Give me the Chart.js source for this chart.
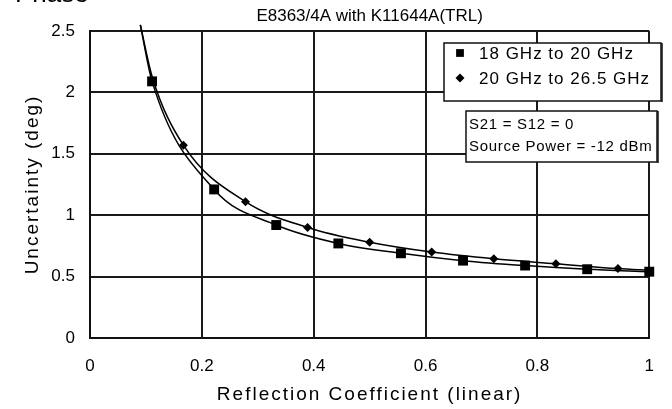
<!DOCTYPE html>
<html>
<head>
<meta charset="utf-8">
<title>Phase uncertainty vs reflection coefficient</title>
<script src="https://cdn.jsdelivr.net/npm/chart.js@4.4.1/dist/chart.umd.min.js"></script>
<style>
  html, body { margin: 0; padding: 0; background: #ffffff; }
  #wrap { width: 672px; height: 409px; }
</style>
</head>
<body>
<div id="wrap"><canvas id="phaseChart" width="672" height="409"></canvas></div>
<script>
const FONT = "'Liberation Sans', Arial, sans-serif";

const pageHeading = "Phase";
const chartTitle = "E8363/4A with K11644A(TRL)";
const xAxisTitle = "Reflection Coefficient (linear)";
const yAxisTitle = "Uncertainty (deg)";
const xTickValues = [0, 0.2, 0.4, 0.6, 0.8, 1];
const yTickValues = [0, 0.5, 1, 1.5, 2, 2.5];
const seriesLabels = ["18 GHz to 20 GHz", "20 GHz to 26.5 GHz"];
const noteLines = ["S21 = S12 = 0", "Source Power = -12 dBm"];

// marker points
const band1X = [0.111, 0.222, 0.333, 0.444, 0.556, 0.667, 0.778, 0.889, 1.0];
const band1Y = [2.09, 1.21, 0.92, 0.77, 0.69, 0.63, 0.59, 0.56, 0.54];
const band2X = [0.167, 0.278, 0.389, 0.5, 0.611, 0.722, 0.833, 0.944];
const band2Y = [1.57, 1.11, 0.90, 0.78, 0.70, 0.645, 0.605, 0.565];

// unmarked stretches of the curves: start above the plot, curve 2 near the first square, curve 2 end
const band1CurveStart = [[0.09, 2.55]];
const band2CurveStart = [[0.09, 2.55], [0.111, 2.13]];
const band2CurveEnd = [[1.0, 0.55]];

document.addEventListener("DOMContentLoaded", () => {
  renderPhaseChart();
});

function buildCurve(start, xs, ys, end = []) {
  const points = start.map(([x, y]) => ({ x, y, marker: false }));
  xs.forEach((x, i) => points.push({ x, y: ys[i], marker: true }));
  end.forEach(([x, y]) => points.push({ x, y, marker: false }));
  return points;
}

// axis titles in the reference are widely spaced
const spacedTitles = {
  id: "spacedTitles",
  beforeDraw(chart) {
    Object.values(chart.scales).forEach((scale) => {
      if (scale._spacedTitle) return;
      const drawTitle = scale.drawTitle;
      scale.drawTitle = function () {
        this.ctx.save();
        this.ctx.letterSpacing = "2px";
        drawTitle.call(this);
        this.ctx.restore();
      };
      scale._spacedTitle = true;
    });
  }
};

function drawBox(ctx, x, y, w, h) {
  ctx.fillStyle = "#ffffff";
  ctx.fillRect(x, y, w, h);
  ctx.strokeStyle = "#111111";
  ctx.lineWidth = 1.5;
  ctx.strokeRect(x, y, w, h);
  ctx.beginPath();
  ctx.moveTo(x + w + 1, y);
  ctx.lineTo(x + w + 1, y + h + 1);
  ctx.stroke();
}

const overlayBoxes = {
  id: "overlayBoxes",
  afterDraw(chart) {
    const { ctx } = chart;
    ctx.save();

    // heading of the page, cut off at the top edge
    ctx.fillStyle = "#000000";
    ctx.font = `26px ${FONT}`;
    ctx.textBaseline = "alphabetic";
    ctx.fillText(pageHeading, 15, 2);

    // series legend
    drawBox(ctx, 444, 43, 217, 58);
    ctx.font = `17px ${FONT}`;
    ctx.letterSpacing = "1px";
    ctx.textBaseline = "middle";
    chart.data.datasets.forEach((ds, i) => {
      const y = 53 + i * 25;
      ctx.fillStyle = "#000000";
      ctx.strokeStyle = "#000000";
      Chart.helpers.drawPoint(ctx, {
        pointStyle: ds.pointStyle,
        radius: ds.pointStyle === "rect" ? 5.5 : 4.5,
        rotation: 0,
        borderWidth: 0
      }, 460, y);
      ctx.fillText(ds.label, 479, y + 1);
    });

    // measurement conditions
    drawBox(ctx, 466, 111, 191, 51);
    ctx.fillStyle = "#000000";
    ctx.font = `15px ${FONT}`;
    ctx.letterSpacing = "0.7px";
    noteLines.forEach((line, i) => {
      ctx.fillText(line, 469, 125 + i * 22);
    });

    ctx.restore();
  }
};

function renderPhaseChart() {
  const ctx = document.getElementById("phaseChart");

  const band1 = buildCurve(band1CurveStart, band1X, band1Y);
  const band2 = buildCurve(band2CurveStart, band2X, band2Y, band2CurveEnd);

  new Chart(ctx, {
    type: "scatter",
    data: {
      datasets: [
        {
          label: seriesLabels[0],
          data: band1,
          showLine: true,
          borderColor: "#000000",
          borderWidth: 1.5,
          backgroundColor: "#000000",
          pointStyle: "rect",
          pointRadius: band1.map((p) => (p.marker ? 7 : 0)),
          pointBorderWidth: 0,
          cubicInterpolationMode: "monotone",
          clip: false
        },
        {
          label: seriesLabels[1],
          data: band2,
          showLine: true,
          borderColor: "#000000",
          borderWidth: 1.5,
          backgroundColor: "#000000",
          pointStyle: "rectRot",
          pointRadius: band2.map((p) => (p.marker ? 4.5 : 0)),
          pointBorderWidth: 0,
          cubicInterpolationMode: "monotone",
          clip: false
        }
      ]
    },
    options: {
      responsive: false,
      animation: false,
      layout: {
        padding: { top: 0, right: 11, bottom: 0, left: 0 }
      },
      plugins: {
        legend: { display: false },
        tooltip: { enabled: false },
        title: {
          display: true,
          text: chartTitle,
          fullSize: false,
          color: "#000000",
          font: { family: FONT, size: 17, weight: "normal" },
          padding: { top: 6, bottom: 4.6 }
        }
      },
      scales: {
        x: {
          type: "linear",
          min: 0,
          max: 1,
          afterBuildTicks: (axis) => {
            axis.ticks = xTickValues.map((value) => ({ value }));
          },
          afterFit: (axis) => {
            axis.height = 71;
          },
          grid: { color: "#1a1a1a", lineWidth: 2, drawTicks: false },
          border: { display: true, color: "#111111", width: 2 },
          ticks: {
            color: "#000000",
            padding: 18,
            maxRotation: 0,
            font: { family: FONT, size: 17 },
            callback: (value) => String(value)
          },
          title: {
            display: true,
            text: xAxisTitle,
            color: "#000000",
            font: { family: FONT, size: 19 },
            padding: { top: 0, bottom: 3 }
          }
        },
        y: {
          type: "linear",
          min: 0,
          max: 2.5,
          afterBuildTicks: (axis) => {
            axis.ticks = yTickValues.map((value) => ({ value }));
          },
          afterFit: (axis) => {
            axis.width = 90;
          },
          grid: { color: "#1a1a1a", lineWidth: 2, drawTicks: false },
          border: { display: true, color: "#111111", width: 2 },
          ticks: {
            color: "#000000",
            padding: 15,
            font: { family: FONT, size: 17 },
            callback: (value) => String(value)
          },
          title: {
            display: true,
            text: yAxisTitle,
            color: "#000000",
            font: { family: FONT, size: 19 },
            padding: { top: 21, bottom: 0 }
          }
        }
      }
    },
    plugins: [spacedTitles, overlayBoxes]
  });
}
</script>
</body>
</html>
